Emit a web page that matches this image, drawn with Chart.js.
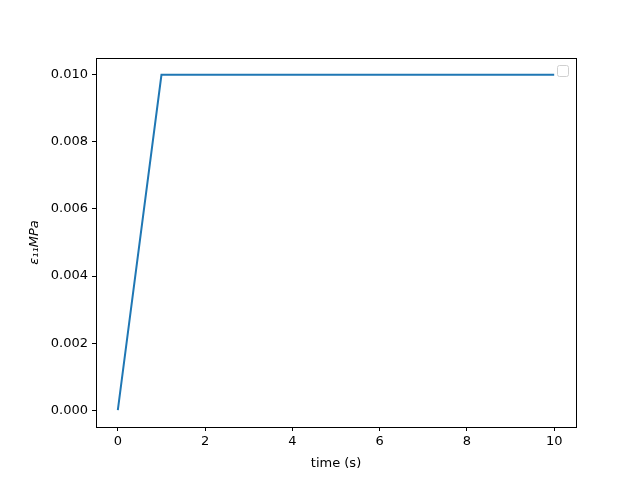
<!DOCTYPE html>
<html lang="en">
<head>
<meta charset="UTF-8">
<title>strain vs time</title>
<script src="https://cdn.jsdelivr.net/npm/chart.js"></script>
<style>
  html, body { margin: 0; padding: 0; background: #fff; }
  #wrap { width: 640px; height: 480px; }
</style>
</head>
<body>
<div id="wrap"><canvas id="chart" width="640" height="480"></canvas></div>
<script>
const timeValues = [0, 1, 10];
const strainValues = [0, 0.01, 0.01];
const xTicks = [0, 2, 4, 6, 8, 10];
const yTicks = [0, 0.002, 0.004, 0.006, 0.008, 0.010];

const points = timeValues.map((t, i) => ({ x: t, y: strainValues[i] }));

// box around plot area + empty legend frame, like matplotlib
const frame = {
    id: 'frame',
    afterDraw(chart) {
        const a = chart.chartArea, ctx = chart.ctx;
        ctx.save();
        ctx.strokeStyle = '#000';
        ctx.lineWidth = 1;
        ctx.strokeRect(Math.round(a.left) + 0.5, Math.round(a.top) + 0.5,
            Math.round(a.right - a.left), Math.round(a.bottom - a.top));
        // empty legend
        ctx.strokeStyle = '#d0d0d0';
        ctx.fillStyle = 'rgba(255,255,255,0.8)';
        ctx.beginPath();
        ctx.roundRect(a.right - 18.5, a.top + 7.5, 11, 11, 2);
        ctx.fill();
        ctx.stroke();
        ctx.restore();
    }
};

new Chart(document.getElementById('chart'), {
    type: 'scatter',
    data: {
        datasets: [{
            data: points,
            showLine: true,
            borderColor: '#1f77b4',
            borderWidth: 2,
            pointRadius: 0,
            fill: false,
            tension: 0
        }]
    },
    options: {
        responsive: false,
        animation: false,
        layout: { padding: { top: 58, right: 64, left: 0, bottom: 0 } },
        plugins: { legend: { display: false }, tooltip: { enabled: false } },
        scales: {
            x: {
                type: 'linear',
                min: -0.5, max: 10.5,
                afterBuildTicks: s => { s.ticks = xTicks.map(v => ({ value: v })); },
                afterFit: s => { s.height = 53; },
                grid: { drawOnChartArea: false, tickLength: 4, color: '#000', tickColor: '#000' },
                border: { color: '#000' },
                ticks: {
                    color: '#000', padding: 3,
                    font: { family: 'DejaVu Sans', size: 13 },
                    callback: v => String(v)
                },
                title: {
                    display: true, text: 'time (s)', color: '#000',
                    font: { family: 'DejaVu Sans', size: 13 },
                    padding: { top: 2, bottom: 9 }
                }
            },
            y: {
                type: 'linear',
                min: -0.0005, max: 0.0105,
                afterBuildTicks: s => { s.ticks = yTicks.map(v => ({ value: v })); },
                afterFit: s => { s.width = 96; },
                grid: { drawOnChartArea: false, tickLength: 4, color: '#000', tickColor: '#000' },
                border: { color: '#000' },
                ticks: {
                    color: '#000', padding: 4,
                    font: { family: 'DejaVu Sans', size: 13 },
                    callback: v => v.toFixed(3)
                },
                title: {
                    display: true, text: 'ε₁₁MPa', color: '#000',
                    font: { family: 'DejaVu Sans', size: 13, style: 'italic' },
                    padding: { top: 27, bottom: 0 }
                }
            }
        }
    },
    plugins: [frame]
});
</script>
</body>
</html>
